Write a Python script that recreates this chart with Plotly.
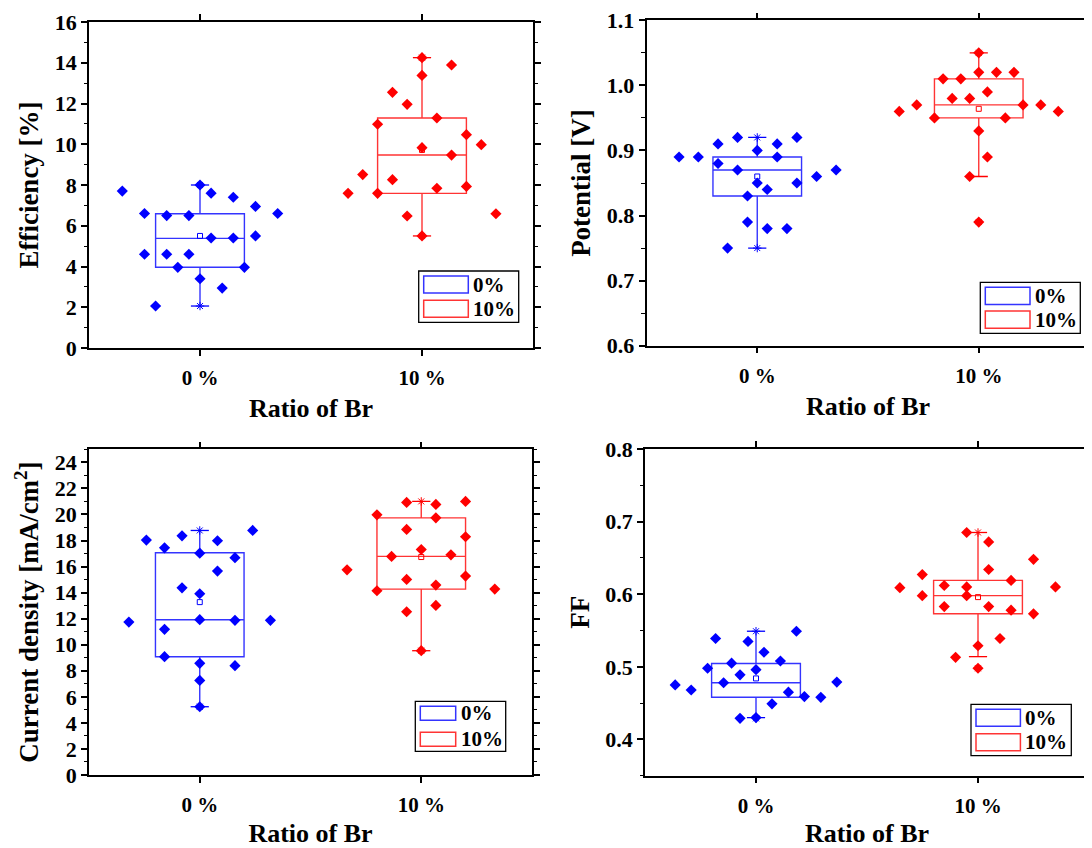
import plotly.graph_objects as go

# ---------------- data ----------------
categories = ["0 %", "10 %"]
group_names = ["0%", "10%"]

# Panel 1: Efficiency [%]
eff_0_y = [7.7, 6.6, 6.5, 6.5, 8.0, 7.6, 7.4, 6.95, 6.6, 5.4, 5.4, 5.5, 4.6, 4.6, 4.6, 3.96, 3.96, 3.4, 2.94, 2.06]
eff_0_x = [-0.35, -0.25, -0.15, -0.05, 0.0, 0.05, 0.15, 0.25, 0.35, 0.05, 0.15, 0.25, -0.25, -0.15, -0.05, -0.10, 0.20, 0.0, 0.10, -0.20]
eff_10_y = [14.25, 13.89, 13.38, 12.55, 11.96, 11.29, 10.98, 10.47, 9.98, 9.83, 9.47, 8.51, 8.26, 7.93, 7.84, 7.59, 7.59, 6.48, 6.59, 5.5]
eff_10_x = [0.0, 0.133, 0.0, -0.133, -0.067, 0.067, -0.2, 0.2, 0.267, 0.0, 0.133, -0.267, -0.133, 0.2, 0.067, -0.333, -0.2, -0.067, 0.333, 0.0]
eff_box = {"q1": [3.96, 7.59], "median": [5.38, 9.47], "q3": [6.59, 11.29],
           "lower": [2.06, 5.5], "upper": [8.0, 14.25], "mean": [5.5, 9.72]}

# Panel 2: Potential [V]
pot_0_y = [0.89, 0.89, 0.91, 0.92, 0.91, 0.92, 0.88, 0.87, 0.90, 0.89, 0.85, 0.84, 0.85, 0.86, 0.87, 0.83, 0.79, 0.78, 0.78, 0.75]
pot_0_x = [-0.353, -0.266, -0.177, -0.089, 0.090, 0.179, -0.177, -0.089, 0.0, 0.090, 0.0, 0.045, 0.179, 0.268, 0.356, -0.044, -0.044, 0.045, 0.134, -0.134]
pot_10_y = [1.05, 1.02, 1.02, 1.02, 1.01, 1.01, 0.99, 0.98, 0.98, 0.96, 0.97, 0.97, 0.97, 0.96, 0.95, 0.95, 0.93, 0.89, 0.86, 0.79]
pot_10_x = [0.0, 0.0, 0.080, 0.159, -0.161, -0.081, 0.039, -0.120, -0.041, -0.359, -0.280, 0.200, 0.280, 0.359, -0.200, 0.120, 0.0, 0.039, -0.041, 0.0]
pot_box = {"q1": [0.83, 0.95], "median": [0.87, 0.97], "q3": [0.89, 1.01],
           "lower": [0.75, 0.86], "upper": [0.92, 1.05], "mean": [0.86, 0.964]}

# Panel 3: Current density [mA/cm2]
cur_0_y = [18.03, 17.44, 18.36, 17.98, 18.77, 17.03, 16.68, 15.65, 14.37, 13.91, 11.74, 11.92, 11.87, 11.87, 11.18, 9.08, 8.57, 8.39, 7.26, 5.24]
cur_0_x = [-0.241, -0.159, -0.080, 0.080, 0.239, 0.0, 0.159, 0.080, -0.080, 0.0, -0.320, 0.0, 0.159, 0.319, -0.159, -0.159, 0.0, 0.159, 0.0, 0.0]
cur_10_y = [20.92, 20.77, 21.0, 19.97, 19.74, 18.85, 18.29, 17.31, 16.78, 16.9, 15.75, 15.01, 15.27, 14.14, 14.58, 14.27, 12.53, 13.02, 9.54]
cur_10_x = [-0.066, 0.066, 0.2, -0.2, 0.066, -0.066, 0.2, 0.0, -0.134, 0.134, -0.335, -0.066, 0.2, -0.2, 0.066, 0.332, -0.066, 0.066, 0.0]
cur_box = {"q1": [9.08, 14.27], "median": [11.92, 16.78], "q3": [17.06, 19.74],
           "lower": [5.24, 9.54], "upper": [18.77, 21.0], "mean": [13.27, 16.73]}

# Panel 4: FF
ff_0_y = [0.475, 0.468, 0.498, 0.539, 0.478, 0.505, 0.489, 0.429, 0.535, 0.496, 0.430, 0.520, 0.449, 0.508, 0.465, 0.549, 0.459, 0.458, 0.479]
ff_0_x = [-0.364, -0.292, -0.218, -0.182, -0.146, -0.110, -0.072, -0.072, -0.036, 0.0, 0.0, 0.036, 0.072, 0.110, 0.146, 0.182, 0.218, 0.292, 0.364]
ff_10_y = [0.685, 0.672, 0.648, 0.634, 0.627, 0.612, 0.610, 0.619, 0.609, 0.610, 0.598, 0.598, 0.583, 0.583, 0.578, 0.573, 0.529, 0.539, 0.513, 0.498]
ff_10_x = [-0.051, 0.048, 0.250, 0.048, -0.251, -0.152, -0.051, 0.149, -0.352, 0.349, -0.251, -0.051, -0.152, 0.048, 0.149, 0.250, 0.0, 0.099, -0.101, 0.0]
ff_box = {"q1": [0.458, 0.573], "median": [0.478, 0.598], "q3": [0.5046, 0.619],
          "lower": [0.430, 0.514], "upper": [0.549, 0.685], "mean": [0.484, 0.596]}

y_titles = ["Efficiency [%]", "Potential [V]", "Current density [mA/cm<sup>2</sup>]", "FF"]
x_title = "Ratio of Br"

panels = [
    dict(ys=[eff_0_y, eff_10_y], xs=[eff_0_x, eff_10_x], box=eff_box,
         yr=[0, 16], dtick=2, minor=1, fmt="d", ystand=8),
    dict(ys=[pot_0_y, pot_10_y], xs=[pot_0_x, pot_10_x], box=pot_box,
         yr=[0.6, 1.1], dtick=0.1, minor=0.05, fmt=".1f", ystand=8),
    dict(ys=[cur_0_y, cur_10_y], xs=[cur_0_x, cur_10_x], box=cur_box,
         yr=[0, 25], dtick=2, minor=1, fmt="d", ystand=8),
    dict(ys=[ff_0_y, ff_10_y], xs=[ff_0_x, ff_10_x], box=ff_box,
         yr=[0.35, 0.8], dtick=0.1, minor=0.05, fmt=".1f", ystand=8),
]

colors = ["#0000FF", "#FF0000"]
box_colors = ["rgba(30,30,255,0.9)", "rgba(255,30,30,0.9)"]

# page body has an 8 px margin; figure is sized so it fills the 1092x848 window
OFF = 8
W, H = 1092 - OFF, 848 - OFF
ML, MR, MT, MB = 81, 2, 12, 72
IW, IH = W - ML - MR, H - MT - MB
def px(x):  # x in window pixels -> paper fraction
    return (x - OFF - ML) / IW
def py(y):
    return 1 - (y - OFF - MT) / IH

# plot-area boxes in window pixels (left, right, top, bottom)
areas = [(89, 533, 22, 348), (646.5, 1089.5, 20.3, 345.7), (89, 532, 449.3, 775), (645, 1089, 449, 775.7)]
# legend frame (left, top, width, height, symbol w, symbol h) in window pixels
legends = [(418.7, 271, 100, 51.3, 44.6, 17), (980.3, 282.3, 100, 51, 44.7, 17.2),
           (415.3, 701.3, 90.4, 50, 35.4, 14), (971, 704.3, 100.3, 51.4, 44.4, 17)]

FONT = "Liberation Serif, Times New Roman, serif"

fig = go.Figure()
shapes = []
annotations = []

for i, p in enumerate(panels):
    n = i + 1
    xa = "x" if n == 1 else f"x{n}"
    ya = "y" if n == 1 else f"y{n}"
    b = p["box"]
    for g in range(2):
        fig.add_trace(go.Box(
            x=[g], q1=[b["q1"][g]], median=[b["median"][g]], q3=[b["q3"][g]],
            lowerfence=[b["lower"][g]], upperfence=[b["upper"][g]],
            width=0.4, whiskerwidth=0, boxpoints=False,
            line=dict(color=box_colors[g], width=1.4), fillcolor="rgba(0,0,0,0)",
            xaxis=xa, yaxis=ya, showlegend=False, name=group_names[g], hoverinfo="skip"))
        fig.add_trace(go.Scatter(
            x=[g, g], y=[b["lower"][g], b["upper"][g]], mode="markers",
            marker=dict(symbol="line-ew-open", size=13, color=colors[g],
                        line=dict(color=colors[g], width=1.3)),
            xaxis=xa, yaxis=ya, showlegend=False, hoverinfo="skip"))
        fig.add_trace(go.Scatter(
            x=[g, g], y=[min(p["ys"][g]), max(p["ys"][g])], mode="markers",
            marker=dict(symbol="asterisk-open", size=7, color=colors[g],
                        line=dict(color=colors[g], width=1)),
            xaxis=xa, yaxis=ya, showlegend=False, hoverinfo="skip"))
        fig.add_trace(go.Scatter(
            x=[g], y=[b["mean"][g]], mode="markers",
            marker=dict(symbol="square-open", size=5, color=colors[g],
                        line=dict(color=colors[g], width=1)),
            xaxis=xa, yaxis=ya, showlegend=False, hoverinfo="skip"))
        fig.add_trace(go.Scatter(
            x=[g + d for d in p["xs"][g]], y=p["ys"][g], mode="markers",
            marker=dict(symbol="diamond", size=8.6, color=colors[g], line=dict(width=0)),
            xaxis=xa, yaxis=ya, showlegend=False, name=group_names[g]))

    l, r, t, btm = areas[i]
    axis_common = dict(showline=True, linecolor="black", linewidth=1.5, mirror="ticks",
                       ticks="outside", tickcolor="black", tickwidth=1.5,
                       showgrid=False, zeroline=False, automargin=False)
    xk = "xaxis" if n == 1 else f"xaxis{n}"
    yk = "yaxis" if n == 1 else f"yaxis{n}"
    fig.layout[xk] = dict(axis_common, domain=[px(l), px(r)], anchor=ya, range=[-0.5, 1.5],
                          tickvals=[0, 1], ticktext=categories, ticklen=6,
                          ticklabelstandoff=4,
                          tickfont=dict(family=FONT, size=21, color="black", weight="bold"),
                          title=dict(text=x_title, standoff=10,
                                     font=dict(family=FONT, size=26, color="black", weight="bold")))
    fig.layout[yk] = dict(axis_common, domain=[py(btm), py(t)], anchor=xa, range=p["yr"],
                          dtick=p["dtick"], tick0=0, tickformat=p["fmt"], ticklen=6,
                          tickfont=dict(family=FONT, size=22, color="black", weight="bold"),
                          minor=dict(ticks="outside", dtick=p["minor"], ticklen=3.5,
                                     tickwidth=1.2, tickcolor="black"),
                          title=dict(text=y_titles[i], standoff=p["ystand"],
                                     font=dict(family=FONT, size=27, color="black", weight="bold")))

    fl, ft, fw, fh, sw, sh = legends[i]
    shapes.append(dict(type="rect", xref="paper", yref="paper", x0=px(fl), x1=px(fl + fw),
                       y0=py(ft + fh), y1=py(ft), line=dict(color="black", width=1.3),
                       fillcolor="white", layer="above"))
    for g in range(2):
        sy = ft + 5 + g * (fh - 10 - sh)
        shapes.append(dict(type="rect", xref="paper", yref="paper",
                           x0=px(fl + 5), x1=px(fl + 5 + sw), y0=py(sy + sh), y1=py(sy),
                           line=dict(color=box_colors[g], width=1.5), layer="above"))
        annotations.append(dict(xref="paper", yref="paper", x=px(fl + 5 + sw + 3), y=py(sy + sh / 2),
                                xanchor="left", yanchor="middle", showarrow=False,
                                text=group_names[g],
                                font=dict(family=FONT, size=21, color="black", weight="bold")))

fig.update_layout(width=W, height=H, autosize=False,
                  margin=dict(l=ML, r=MR, t=MT, b=MB),
                  paper_bgcolor="white", plot_bgcolor="white",
                  boxmode="overlay", showlegend=False,
                  shapes=shapes, annotations=annotations)

fig.write_html("out.html")
